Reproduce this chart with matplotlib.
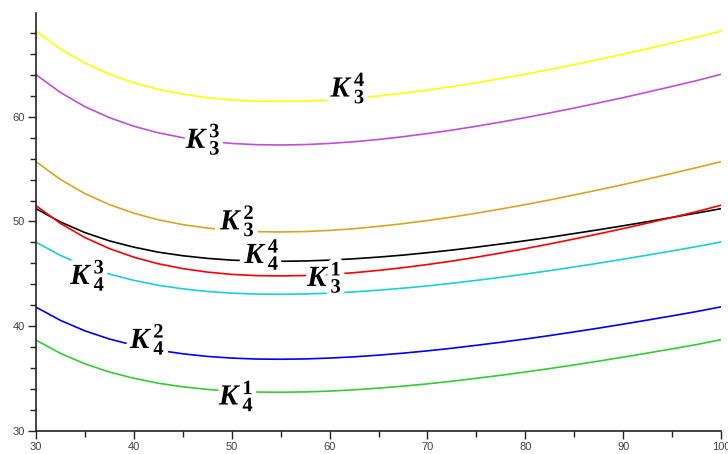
import numpy as np
import matplotlib
matplotlib.use("Agg")
import matplotlib.pyplot as plt
import matplotlib.patheffects as pe
from matplotlib.ticker import MultipleLocator

# values
x = [30, 32.5, 35, 37.5, 40, 42.5, 45, 47.5, 50, 52.5, 55, 57.5, 60, 62.5, 65,
     67.5, 70, 72.5, 75, 77.5, 80, 82.5, 85, 87.5, 90, 92.5, 95, 97.5, 100]

k34 = [68.16, 66.46, 65.11, 64.06, 63.24, 62.61, 62.15, 61.82, 61.60, 61.48, 61.45, 61.49, 61.60, 61.76, 61.98,
       62.24, 62.54, 62.87, 63.24, 63.64, 64.06, 64.51, 64.98, 65.47, 65.97, 66.50, 67.04, 67.59, 68.16]
k33 = [64.01, 62.31, 60.96, 59.91, 59.09, 58.46, 58.00, 57.67, 57.45, 57.33, 57.30, 57.34, 57.45, 57.61, 57.83,
       58.09, 58.39, 58.72, 59.09, 59.49, 59.91, 60.36, 60.83, 61.32, 61.82, 62.35, 62.89, 63.44, 64.05]
k32 = [55.71, 54.01, 52.66, 51.61, 50.79, 50.16, 49.70, 49.37, 49.15, 49.03, 49.00, 49.04, 49.15, 49.31, 49.53,
       49.79, 50.09, 50.42, 50.79, 51.19, 51.61, 52.06, 52.53, 53.02, 53.52, 54.05, 54.59, 55.14, 55.71]
k44 = [51.22, 49.95, 48.94, 48.15, 47.55, 47.07, 46.73, 46.48, 46.31, 46.22, 46.20, 46.23, 46.31, 46.44, 46.60,
       46.79, 47.02, 47.27, 47.55, 47.85, 48.16, 48.49, 48.85, 49.21, 49.59, 49.98, 50.39, 50.80, 51.22]
k31 = [51.51, 49.81, 48.46, 47.41, 46.59, 45.96, 45.50, 45.17, 44.95, 44.83, 44.80, 44.84, 44.95, 45.11, 45.33,
       45.59, 45.89, 46.22, 46.59, 46.99, 47.41, 47.86, 48.33, 48.82, 49.32, 49.85, 50.39, 50.94, 51.55]
k43 = [48.02, 46.76, 45.76, 44.98, 44.38, 43.91, 43.57, 43.32, 43.16, 43.07, 43.05, 43.08, 43.16, 43.28, 43.44,
       43.63, 43.85, 44.10, 44.38, 44.67, 44.98, 45.31, 45.66, 46.02, 46.40, 46.79, 47.19, 47.60, 48.05]
k42 = [41.82, 40.56, 39.56, 38.78, 38.18, 37.71, 37.37, 37.12, 36.96, 36.87, 36.85, 36.88, 36.96, 37.08, 37.24,
       37.43, 37.65, 37.90, 38.18, 38.47, 38.78, 39.11, 39.46, 39.82, 40.20, 40.59, 40.99, 41.40, 41.85]
k41 = [38.67, 37.41, 36.41, 35.63, 35.03, 34.56, 34.22, 33.97, 33.81, 33.72, 33.70, 33.73, 33.81, 33.93, 34.09,
       34.28, 34.50, 34.75, 35.03, 35.32, 35.63, 35.96, 36.31, 36.67, 37.05, 37.44, 37.84, 38.25, 38.72]

series = [k34, k33, k32, k44, k31, k43, k42, k41]
colors = ["#ffff00", "#c04fd6", "#daa520", "#000000", "#ff0000", "#18d0d8", "#0000ff", "#33cc33"]
labels = [("3", "4"), ("3", "3"), ("3", "2"), ("4", "4"), ("3", "1"), ("4", "3"), ("4", "2"), ("4", "1")]
label_x = [61.9, 47.1, 50.6, 53.1, 59.5, 35.3, 41.4, 50.5]
label_y = [62.7, 57.8, 50.0, 46.8, 44.6, 44.8, 38.7, 33.3]

plt.rcParams["mathtext.fontset"] = "custom"
plt.rcParams["mathtext.rm"] = "Liberation Serif"
plt.rcParams["mathtext.bf"] = "Liberation Serif:bold"
plt.rcParams["mathtext.bfit"] = "Liberation Serif:italic:bold"
plt.rcParams["mathtext.it"] = "Liberation Serif:italic:bold"

fig = plt.figure(figsize=(7.28, 4.54), dpi=100, facecolor="w")
ax = fig.add_axes([36 / 728, 23 / 454, 685 / 728, 418 / 454])

for y, c in zip(series, colors):
    ax.plot(x, y, color=c, lw=1.2, zorder=2)

# white halo round each label cuts the curve like in the original
halo = [pe.withStroke(linewidth=7, foreground="w")]
for (sub, sup), lx, ly in zip(labels, label_x, label_y):
    ax.text(lx, ly, r"${\mathbfit{K}\,}_{\mathbf{%s}}^{\mathbf{%s}}$" % (sub, sup),
            fontsize=21, ha="center", va="center", zorder=5, path_effects=halo)

ax.set_xlim(30, 100)
ax.set_ylim(30, 69.9)
ax.xaxis.set_major_locator(MultipleLocator(10))
ax.xaxis.set_minor_locator(MultipleLocator(5))
ax.yaxis.set_major_locator(MultipleLocator(10))
ax.yaxis.set_minor_locator(MultipleLocator(2))

for s in ["top", "right"]:
    ax.spines[s].set_visible(False)
for s in ["left", "bottom"]:
    ax.spines[s].set_linewidth(1.2)
    ax.spines[s].set_color("#222222")

ax.tick_params(which="major", length=6, width=1, color="#222222",
               labelsize=8, labelcolor="#444444", pad=2)
ax.tick_params(which="minor", length=4, width=1, color="#222222")
for lab in ax.get_xticklabels() + ax.get_yticklabels():
    lab.set_family("Liberation Sans")
ax.patch.set_alpha(0)

fig.savefig("out.png", dpi=100, facecolor="w")
